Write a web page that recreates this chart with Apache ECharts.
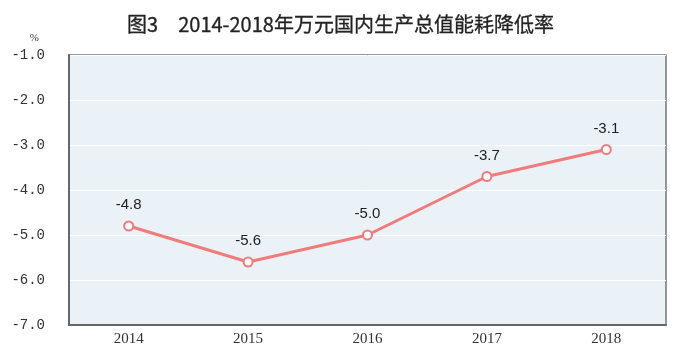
<!DOCTYPE html>
<html><head><meta charset="utf-8">
<script src="https://cdn.jsdelivr.net/npm/echarts@6/dist/echarts.min.js"></script>
<style>html,body{margin:0;padding:0;background:#fff}#c{width:681px;height:355px}</style>
</head><body><div id="c"></div>
<script>
const categories = ['2014', '2015', '2016', '2017', '2018'];
const values = [-4.8, -5.6, -5.0, -3.7, -3.1];
const titleText = '图3　2014-2018年万元国内生产总值能耗降低率';
const unitLabel = '%';

const chart = echarts.init(document.getElementById('c'));
chart.setOption({
  animation: false,
  backgroundColor: '#fff',
  title: {
    text: titleText, left: 'center', top: 9,
    textStyle: { fontFamily: 'Noto Sans CJK SC', fontSize: 20, fontWeight: 'normal', color: '#222',
      textBorderColor: '#222', textBorderWidth: 0.3 }
  },
  grid: {
    left: 69, right: 15, top: 55, bottom: 30, show: true,
    backgroundColor: '#EBF2F7', borderColor: '#777', borderWidth: 1.5
  },
  xAxis: {
    type: 'category', data: categories, boundaryGap: true,
    axisLine: { lineStyle: { color: '#666', width: 2 } },
    axisTick: { show: false },
    axisLabel: { color: '#333', fontFamily: 'Liberation Serif', fontSize: 15, margin: 7 }
  },
  yAxis: {
    type: 'value', min: -7, max: -1, interval: 1,
    name: unitLabel, nameGap: 11, nameLocation: 'end',
    nameTextStyle: { color: '#333', fontFamily: 'Liberation Serif', fontSize: 11, align: 'right', padding: [0, 30, 0, 0] },
    axisLine: { show: true, lineStyle: { color: '#666', width: 2 } },
    axisTick: { show: false },
    splitLine: { lineStyle: { color: '#fff', width: 1 } },
    axisLabel: { color: '#333', fontFamily: 'Liberation Mono', fontSize: 14, margin: 24,
      formatter: v => v.toFixed(1) }
  },
  series: [{
    type: 'line', data: values,
    lineStyle: { color: '#F07B7B', width: 3 },
    itemStyle: { color: '#fff', borderColor: '#F07B7B', borderWidth: 2 },
    symbol: 'circle', symbolSize: 9,
    label: { show: true, position: 'top', distance: 8, color: '#222',
      fontFamily: 'Liberation Sans', fontSize: 15,
      formatter: p => p.value.toFixed(1) }
  }]
});
</script></body></html>
